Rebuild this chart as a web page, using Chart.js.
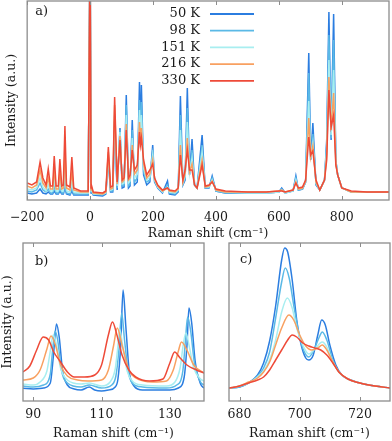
<!DOCTYPE html>
<html>
<head>
<meta charset="utf-8">
<script src="https://cdn.jsdelivr.net/npm/chart.js@4.4.0/dist/chart.umd.min.js"></script>
<style>
  body { margin: 0; background: #fff; width: 392px; height: 441px; overflow: hidden; position: relative; }
  canvas { position: absolute; }
</style>
</head>
<body>
<canvas id="chartA" width="392" height="241" style="left:0;top:0;width:392px;height:241px"></canvas>
<canvas id="chartB" width="205" height="201" style="left:0;top:240px;width:205px;height:201px"></canvas>
<canvas id="chartC" width="187" height="201" style="left:205px;top:240px;width:187px;height:201px"></canvas>
<script>
const temps = ['50 K', '98 K', '151 K', '216 K', '330 K'];
const lineColors = ['#2b7de0', '#5ab9e6', '#a8eef0', '#f8a060', '#ee4a38'];

// panel a: full spectrum, shared shift axis
const aTicks = [-200, 0, 200, 400, 600, 800];
const aShift = [-200, -185, -170, -159, -150, -140, -133, -126, -119, -114, -108, -101, -96, -90, -85, -80, -75, -64, -58, -52,
  -30, -6, 0, 3, 5, 10, 40, 50, 58, 65, 72, 78, 86, 95, 102, 108, 115, 122, 127, 134,
  141, 150, 157, 160, 163, 170, 180, 190, 199, 205, 215, 230, 246, 252, 270, 280, 287, 295, 302, 309,
  316, 324, 332, 340, 356, 366, 378, 388, 400, 430, 500, 560, 600, 609, 620, 645, 654, 662, 675, 685,
  695, 701, 708, 718, 730, 745, 752, 759, 766, 774, 781, 787, 800, 830, 880, 950];
const a50 = [7, 6, 7, 11, 7, 6, 8, 6, 6, 9, 6, 6, 9, 6, 6, 12, 6, 5, 9, 5,
  5, 5, 260, 7, 8, 5, 4, 6, 40, 8, 8, 70, 10, 72, 12, 13, 105, 12, 14, 80,
  15, 18, 118, 60, 115, 25, 15, 18, 55, 18, 12, 7, 19, 6, 5, 8, 104, 15, 20, 112,
  25, 61, 15, 12, 65, 12, 12, 24, 9, 7, 7, 7, 8, 12, 7, 9, 24, 10, 11, 18,
  147, 40, 77, 15, 10, 20, 60, 188, 60, 186, 40, 25, 12, 8, 8, 8];
const a98 = [9, 8, 10, 17, 10, 8, 11, 7, 7, 14, 7, 7, 13, 7, 7, 20, 7, 6, 12, 6,
  6, 6, 260, 8, 9, 6, 5, 7, 42, 9, 9, 78, 12, 70, 14, 15, 95, 14, 16, 70,
  18, 22, 100, 58, 98, 28, 18, 20, 50, 19, 13, 8, 15, 7, 6, 9, 85, 16, 22, 92,
  26, 50, 15, 12, 55, 12, 13, 22, 9, 7, 7, 7, 8, 11, 7, 9, 22, 10, 11, 18,
  127, 41, 66, 16, 10, 20, 55, 165, 62, 160, 39, 25, 12, 8, 8, 8];
const a151 = [11, 10, 12, 22, 13, 9, 15, 9, 9, 20, 9, 9, 18, 9, 9, 30, 9, 8, 18, 8,
  7, 7, 260, 9, 10, 6, 6, 7, 45, 10, 11, 85, 14, 68, 16, 17, 85, 17, 19, 62,
  22, 26, 90, 57, 85, 32, 20, 23, 45, 20, 13, 8, 13, 8, 7, 10, 70, 17, 24, 78,
  27, 42, 15, 12, 48, 13, 13, 20, 10, 8, 7, 7, 8, 10, 7, 9, 20, 11, 12, 19,
  99, 42, 57, 17, 10, 20, 50, 140, 65, 130, 38, 25, 12, 8, 8, 8];
const a216 = [14, 12, 15, 30, 17, 12, 22, 11, 11, 30, 11, 11, 28, 11, 12, 48, 12, 10, 28, 10,
  8, 8, 260, 10, 12, 7, 6, 8, 48, 11, 12, 95, 16, 64, 18, 20, 76, 20, 22, 55,
  26, 30, 78, 56, 72, 36, 22, 26, 40, 21, 14, 9, 12, 9, 8, 11, 55, 18, 27, 62,
  28, 36, 15, 12, 40, 13, 14, 19, 10, 8, 8, 8, 9, 10, 8, 10, 18, 11, 12, 19,
  82, 43, 54, 18, 10, 20, 45, 123, 70, 107, 36, 25, 12, 8, 8, 8];
const a330 = [17, 15, 18, 38, 22, 15, 31, 14, 14, 44, 14, 14, 41, 14, 15, 74, 15, 13, 43, 12,
  9, 9, 260, 12, 14, 8, 7, 9, 53, 13, 14, 103, 18, 60, 20, 22, 70, 22, 25, 50,
  30, 35, 68, 55, 62, 40, 25, 30, 36, 22, 15, 10, 12, 10, 9, 12, 45, 20, 30, 50,
  30, 30, 15, 12, 35, 14, 15, 18, 11, 9, 8, 8, 9, 9, 8, 10, 17, 12, 13, 20,
  63, 45, 49, 20, 10, 20, 40, 110, 73, 85, 35, 25, 12, 9, 8, 8];

// panel b: zoom 87-140 cm-1
const bTicks = [90, 110, 130];
const b50x = [87, 90, 93, 95, 95.9, 96.8, 97.6, 98.6, 100, 102, 104, 106.4, 108, 110, 112, 114, 114.8, 115.6, 116.3, 117.1,
  118.1, 119.5, 122, 126, 130, 132.5, 134.2, 135, 135.6, 136.4, 137.4, 139, 140];
const b50y = [12.7, 12, 13, 18, 45, 77, 64, 30, 16, 12, 11, 14, 11, 10, 11, 14, 22, 55, 111, 75,
  30, 15, 11, 11, 11, 13, 24, 55, 93, 78, 40, 17, 13];
const b98x = [87, 90, 93, 95, 95.6, 96.4, 97.2, 98.2, 100, 104, 106.4, 110, 113, 114.2, 115, 115.9, 116.7, 117.8, 119, 122,
  129, 132, 133.8, 134.6, 135.2, 136.1, 137.2, 139, 140];
const b98y = [15, 14, 16, 27, 48, 70, 60, 32, 18, 14, 16, 13, 16, 25, 48, 88, 62, 30, 18, 14,
  13, 16, 30, 62, 84, 70, 38, 19, 16];
const b151x = [87, 90, 92, 94, 95, 95.8, 96.8, 98, 100, 104, 106.4, 110, 112.5, 114, 114.7, 115.3, 116.2, 117.5, 119, 122,
  129, 131.5, 133, 134, 134.7, 135.6, 137, 139, 140];
const b151y = [17, 16, 19, 30, 50, 66, 56, 33, 21, 17, 18, 15, 19, 32, 52, 72, 55, 30, 20, 16,
  15, 19, 33, 58, 68, 56, 33, 22, 20];
const b216x = [87, 90, 92, 94, 95.2, 96.5, 98, 100, 103, 106, 110, 112, 113.5, 114.6, 116, 118, 120, 125, 129, 131,
  132.5, 133.4, 135, 137, 140];
const b216y = [21, 23, 31, 52, 65, 56, 36, 25, 21, 20, 21, 31, 55, 73, 56, 31, 23, 19, 20, 31,
  50, 59, 51, 36, 28];
const b330x = [87, 89, 91, 92.9, 94.5, 96, 98, 100, 102, 105, 108, 110, 112, 113.2, 114.5, 116, 118, 120, 124, 128,
  130, 131.4, 133, 135, 137.8, 140];
const b330y = [29, 35, 51, 64, 61, 49, 39, 29, 24, 24, 26, 36, 66, 79, 66, 46, 31, 24, 20, 22,
  38, 49, 43, 36, 31, 28];

// panel c: zoom 676-730 cm-1
const cTicks = [680, 700, 720];
const c50x = [676.5, 680, 683, 686, 688, 690, 692, 694, 695, 696, 697.5, 699, 700.5, 702, 703, 704.5, 706, 707.3, 708.5, 710,
  712, 714, 717, 720, 725, 730];
const c50y = [13, 14, 18, 26, 38, 60, 95, 141, 153, 149, 121, 81, 56, 43, 41, 46, 66, 81, 76, 56,
  36, 26, 21, 18, 15, 13];
const c98x = [676.5, 680, 683, 686, 688, 690, 692, 694, 695.2, 696.5, 698, 699.5, 701, 703, 705, 706.5, 707.5, 709, 711, 713,
  716, 720, 725, 730];
const c98y = [13, 14, 18, 25, 33, 49, 83, 119, 133, 123, 96, 71, 53, 44, 53, 64, 69, 61, 41, 29,
  22, 18, 15, 13];
const c151x = [676.5, 680, 683, 686, 688, 690, 692, 694, 695.9, 697.5, 699, 701, 703, 705, 707.5, 709, 711, 713, 716, 720,
  725, 730];
const c151y = [13, 15, 18, 24, 30, 41, 61, 89, 103, 93, 73, 56, 47, 52, 59, 54, 39, 29, 22, 18,
  15, 13];
const c216x = [676.5, 680, 683, 686, 688, 690, 692, 694, 696.4, 698, 700, 702, 704, 706, 707.5, 709, 711, 713, 716, 720,
  725, 730];
const c216y = [13, 15, 19, 23, 29, 39, 56, 73, 86, 81, 66, 55, 51, 53, 56, 51, 39, 29, 22, 18,
  15, 13];
const c330x = [676.5, 680, 683, 686, 688, 690, 692, 694, 696, 697.5, 699, 701, 703, 705, 707, 709, 711, 713, 716, 720,
  725, 730];
const c330y = [13, 15, 18, 21, 24, 31, 41, 51, 61, 66, 64, 58, 55, 53, 51, 46, 38, 29, 22, 18,
  15, 13];

const serif = '"DejaVu Serif", serif';
const textColor = '#1a1a1a';
const frameColor = '#8c8c8c';

function pts(xs, ys) {
  return xs.map((x, i) => ({ x: x, y: ys[i] }));
}

// frame box, inward ticks top and bottom, panel letter
const framePlugin = {
  id: 'frame',
  afterDatasetsDraw(chart, args, opts) {
    const ctx = chart.ctx;
    const a = chart.chartArea;
    const x = chart.scales.x;
    ctx.save();
    ctx.strokeStyle = frameColor;
    ctx.lineWidth = 1.3;
    ctx.strokeRect(a.left, a.top, a.right - a.left, a.bottom - a.top);
    ctx.lineWidth = 1;
    x.ticks.forEach(t => {
      const px = Math.round(x.getPixelForValue(t.value)) + 0.5;
      ctx.beginPath();
      ctx.moveTo(px, a.bottom);
      ctx.lineTo(px, a.bottom - 4);
      ctx.moveTo(px, a.top);
      ctx.lineTo(px, a.top + 4);
      ctx.stroke();
    });
    if (opts.label) {
      ctx.fillStyle = textColor;
      ctx.font = '13px ' + serif;
      ctx.textBaseline = 'middle';
      ctx.fillText(opts.label, a.left + opts.dx, a.top + opts.dy);
    }
    ctx.restore();
  }
};

// legend: right aligned labels with line sample to the right
const keyPlugin = {
  id: 'key',
  afterDatasetsDraw(chart, args, opts) {
    if (!opts.show) return;
    const ctx = chart.ctx;
    ctx.save();
    ctx.font = '13px ' + serif;
    ctx.textAlign = 'right';
    ctx.textBaseline = 'middle';
    temps.forEach((t, i) => {
      const y = opts.top + i * opts.row;
      ctx.fillStyle = textColor;
      ctx.fillText(t, opts.textRight, y);
      ctx.strokeStyle = lineColors[i];
      ctx.lineWidth = 1.8;
      ctx.beginPath();
      ctx.moveTo(opts.lineLeft, y);
      ctx.lineTo(opts.lineRight, y);
      ctx.stroke();
    });
    ctx.restore();
  }
};

function makeDatasets(series, smooth) {
  return series.map((s, i) => ({
    label: temps[i],
    data: s,
    borderColor: lineColors[i],
    borderWidth: 1.5,
    pointRadius: 0,
    fill: false,
    cubicInterpolationMode: smooth ? 'monotone' : 'default',
    tension: 0,
    order: series.length - 1 - i
  }));
}

function makeOptions(cfg) {
  return {
    responsive: false,
    animation: false,
    events: [],
    layout: { padding: cfg.padding },
    plugins: {
      legend: { display: false },
      tooltip: { enabled: false },
      frame: { label: cfg.label, dx: cfg.labelDx, dy: cfg.labelDy },
      key: cfg.key || { show: false }
    },
    scales: {
      x: {
        type: 'linear',
        min: cfg.xmin,
        max: cfg.xmax,
        grid: { display: false, drawTicks: false },
        border: { display: false },
        ticks: {
          font: { family: serif, size: 12.5 },
          color: textColor,
          padding: cfg.tickPad,
          maxRotation: 0,
          callback: v => String(v).replace('-', '\u2212')
        },
        afterBuildTicks: s => { s.ticks = cfg.ticks.map(v => ({ value: v })); },
        afterFit: s => { s.height = cfg.xHeight; },
        title: {
          display: true,
          text: 'Raman shift (cm\u207B\u00B9)',
          font: { family: serif, size: 12.5 },
          color: textColor,
          padding: { top: 0, bottom: cfg.titlePad }
        }
      },
      y: {
        display: cfg.showY,
        min: 0,
        max: cfg.ymax,
        grid: { display: false, drawTicks: false },
        border: { display: false },
        ticks: { display: false },
        afterFit: s => { s.width = 23; },
        title: {
          display: true,
          text: 'Intensity (a.u.)',
          font: { family: serif, size: 12.5 },
          color: textColor,
          padding: { top: 0, bottom: 0 }
        }
      }
    }
  };
}

new Chart(document.getElementById('chartA'), {
  type: 'line',
  data: {
    labels: aShift,
    datasets: makeDatasets([a50, a98, a151, a216, a330].map(ys => pts(aShift, ys)), false)
  },
  options: makeOptions({
    padding: { top: 1, right: 3, left: 0, bottom: 0 },
    xmin: -200, xmax: 950, ymax: 199, ticks: aTicks,
    tickPad: 10, xHeight: 41, titlePad: 0, showY: true,
    label: 'a)', labelDx: 8, labelDy: 11,
    key: { show: true, top: 14, row: 16.7, textRight: 200, lineLeft: 210, lineRight: 254 }
  }),
  plugins: [framePlugin, keyPlugin]
});

new Chart(document.getElementById('chartB'), {
  type: 'line',
  data: {
    datasets: makeDatasets([
      pts(b50x, b50y), pts(b98x, b98y), pts(b151x, b151y), pts(b216x, b216y), pts(b330x, b330y)
    ], true)
  },
  options: makeOptions({
    padding: { top: 3, right: 1, left: 0, bottom: 0 },
    xmin: 87, xmax: 140, ymax: 158, ticks: bTicks,
    tickPad: 6, xHeight: 40, titlePad: 0, showY: true,
    label: 'b)', labelDx: 12, labelDy: 19
  }),
  plugins: [framePlugin]
});

new Chart(document.getElementById('chartC'), {
  type: 'line',
  data: {
    datasets: makeDatasets([
      pts(c50x, c50y), pts(c98x, c98y), pts(c151x, c151y), pts(c216x, c216y), pts(c330x, c330y)
    ], true)
  },
  options: makeOptions({
    padding: { top: 3, right: 2, left: 1, bottom: 0 },
    xmin: 676.5, xmax: 730, ymax: 158, ticks: cTicks,
    tickPad: 6, xHeight: 40, titlePad: 0, showY: false,
    label: 'c)', labelDx: 11, labelDy: 17
  }),
  plugins: [framePlugin]
});
</script>
</body>
</html>
